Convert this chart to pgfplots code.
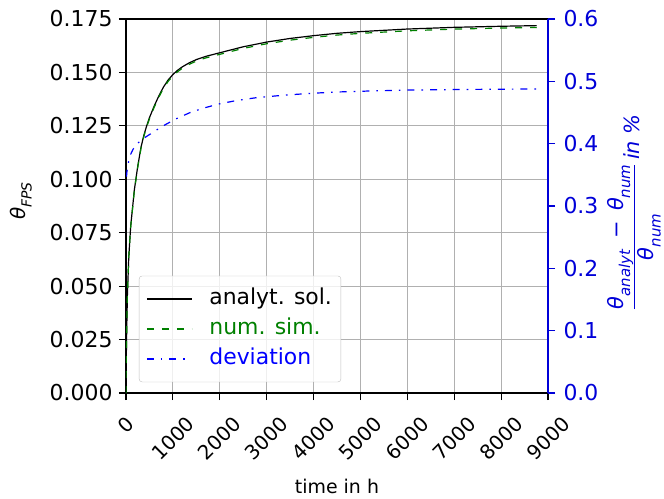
\documentclass[border=0pt]{standalone}
\usepackage{fontspec}
\setmainfont{DejaVu Sans}
\usepackage{pgfplots}
\usepackage{pgfplotstable}
\pgfplotsset{compat=1.18}

\definecolor{mplgreen}{HTML}{008000}
\definecolor{mplblue}{HTML}{0000FF}
\definecolor{axblue}{HTML}{0000D8}
\definecolor{gridgray}{HTML}{B0B0B0}

% italic symbol with a lowered, smaller italic index
\newcommand\symsub[3]{\textit{#1}\raisebox{-0.32em}{\fontsize{#3}{#3}\selectfont\textit{#2}}}

% analytical solution and numerical simulation of the FPS temperature
\pgfplotstableread{
t     ana     num
0     0.0000  0.000000
5     0.0150  0.014948
15    0.0290  0.028898
30    0.0460  0.045834
60    0.0640  0.063761
100   0.0780  0.077701
178   0.0950  0.094626
250   0.1060  0.105575
320   0.1150  0.114534
380   0.1205  0.120009
441   0.1250  0.124487
500   0.1288  0.128266
600   0.1342  0.133638
700   0.1390  0.138411
800   0.1432  0.142586
900   0.1465  0.145866
1000  0.1490  0.148352
1100  0.1510  0.150337
1200  0.1526  0.151923
1350  0.1545  0.153809
1500  0.1560  0.155297
1700  0.1575  0.156779
2000  0.1592  0.158461
2500  0.1620  0.161237
3000  0.1642  0.163420
3500  0.1659  0.165106
4000  0.1672  0.166396
4500  0.1683  0.167487
5000  0.1691  0.168282
6000  0.1703  0.169472
7000  0.1711  0.170267
8000  0.1716  0.170764
8760  0.1719  0.171062
}\thetatab

% relative deviation in percent
\pgfplotstableread{
t     dev
10    0.347
20    0.355
35    0.363
60    0.373
100   0.383
150   0.391
213   0.398
300   0.404
426   0.411
550   0.417
675   0.423
850   0.431
1100  0.441
1400  0.451
1700  0.458
2000  0.464
2345  0.469
2800  0.474
3410  0.478
4000  0.481
4550  0.483
5200  0.4845
6030  0.486
7000  0.4868
8000  0.4874
8760  0.4877
}\devtab

\pgfplotsset{
  common/.style={
    scale only axis, width=422bp, height=374bp,
    xmin=0, xmax=9000,
    scaled ticks=false,
    tick align=outside, major tick length=7bp,
    /pgf/number format/assume math mode=true,
    tick label style={font=\fontsize{22}{26}\selectfont},
  },
  dashdot/.style={dash pattern=on 7bp off 7bp on 1.6bp off 7bp},
  numstyle/.style={color=mplgreen, line width=1.2bp, dash pattern=on 7bp off 8bp},
  devstyle/.style={color=mplblue, line width=1.2bp, dashdot},
}

\begin{document}
\begin{tikzpicture}
\useasboundingbox (-126bp,-106bp) rectangle (538bp,393bp);
\begin{axis}[
  common,
  ymin=0, ymax=0.175,
  xtick={0,1000,2000,3000,4000,5000,6000,7000,8000,9000},
  ytick={0,0.025,0.05,0.075,0.1,0.125,0.15,0.175},
  xtick pos=bottom, ytick pos=left,
  grid=major, grid style={gridgray, line width=0.8bp},
  axis line style={black, line width=1.3bp},
  tick style={black, line width=1.1bp},
  xticklabel={\rotatebox{45}{\pgfmathprintnumber[1000 sep={}]{\tick}}},
  xticklabel style={anchor=north, inner sep=0bp, yshift=-15bp,
    font=\fontsize{20}{24}\selectfont},
  yticklabel style={xshift=-3bp, /pgf/number format/.cd, fixed, fixed zerofill, precision=3},
  xlabel={time in h},
  xlabel style={at={(axis description cs:0.5,-0.251)}, anchor=center,
    font=\fontsize{19}{23}\selectfont},
  ylabel={\symsub{θ}{FPS}{14}},
  ylabel style={at={(axis description cs:-0.249,0.513)}, anchor=center,
    font=\fontsize{20}{24}\selectfont},
  legend image code/.code={\draw[#1] (0bp,0bp) -- (45bp,0bp);},
  legend cell align=left,
  legend style={at={(axis description cs:0.026,0.029)}, anchor=south west,
    xshift=2bp,
    draw=black!25, rounded corners=3bp, fill=white, fill opacity=0.8,
    text opacity=1, font=\fontsize{22}{26}\selectfont,
    inner xsep=7bp, inner ysep=8bp, column sep=15bp,
    nodes={text height=19bp, text depth=7bp, inner sep=2bp}},
]
\addplot[black, line width=1.2bp] table[x=t, y=ana] {\thetatab};
\addlegendentry[text=black]{analyt. sol.}
\addplot[numstyle] table[x=t, y=num] {\thetatab};
\addlegendentry[text=mplgreen]{num. sim.}
\addlegendimage{devstyle}
\addlegendentry[text=mplblue]{deviation}
\end{axis}
\begin{axis}[
  common,
  ymin=0, ymax=0.6,
  axis x line=none, axis y line*=right,
  ytick={0,0.1,0.2,0.3,0.4,0.5,0.6},
  y axis line style={axblue, line width=1.3bp},
  ytick style={axblue, line width=1.1bp},
  yticklabel style={axblue, xshift=5bp, /pgf/number format/.cd, fixed, fixed zerofill, precision=1},
  ylabel={\(\displaystyle\frac{\mbox{\symsub{θ}{analyt}{15}\enspace−\enspace\symsub{θ}{num}{15}}}{\mbox{\symsub{θ}{num}{15}}}\)\,\textit{in \%}},
  ylabel style={axblue, at={(axis description cs:1.204,0.483)}, anchor=center,
    font=\fontsize{21}{25}\selectfont},
]
\addplot[devstyle] table[x=t, y=dev] {\devtab};
\end{axis}
\end{tikzpicture}
\end{document}
